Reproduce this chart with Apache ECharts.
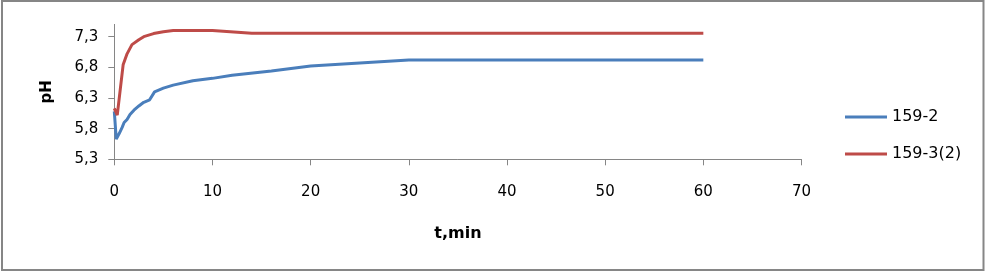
<!DOCTYPE html>
<html>
<head>
<meta charset="utf-8">
<script src="https://cdn.jsdelivr.net/npm/echarts@6/dist/echarts.min.js"></script>
<style>html,body{margin:0;padding:0;background:#fff}#c{width:985px;height:271px}</style>
</head>
<body>
<div id="c"></div>
<script>
// Data
var seriesNames = ['159-2', '159-3(2)'];
var blueData = [[0,6.08],[0.2,5.63],[0.5,5.72],[0.8,5.82],[1,5.9],[1.3,5.95],[1.6,6.03],[2,6.1],[2.5,6.17],[3,6.23],[3.6,6.27],[4.1,6.4],[5,6.46],[6,6.51],[8,6.58],[10,6.62],[12,6.67],[16,6.74],[20,6.82],[30,6.92],[40,6.92],[50,6.92],[60,6.92]];
var redData = [[0,6.13],[0.15,6.13],[0.3,6.02],[0.9,6.84],[1.3,7.02],[1.8,7.17],[2.5,7.25],[3,7.3],[4,7.35],[5,7.38],[6,7.4],[8,7.4],[10,7.4],[14,7.355],[20,7.355],[30,7.355],[40,7.355],[50,7.355],[60,7.355]];
var xTicks = [0,10,20,30,40,50,60,70];
var yTicks = [5.3,5.8,6.3,6.8,7.3];

var chart = echarts.init(document.getElementById('c'), null, {renderer:'canvas'});
var axisGray = '#868686';
var font = 'DejaVu Sans';
chart.setOption({
  animation: false,
  backgroundColor: '#fff',
  graphic: [{type:'rect', shape:{x:2, y:1, width:981.5, height:269}, style:{fill:'none', stroke:axisGray, lineWidth:2}, silent:true, z:100}],
  grid: {left:114.3, right:183.5, top:24.4, bottom:111.7, containLabel:false},
  legend: {
    orient:'vertical', left:845, top:109, padding:0, itemWidth:42, itemHeight:3, itemGap:21,
    icon:'rect',
    data: seriesNames,
    textStyle:{fontFamily:font, fontSize:16, color:'#000'}
  },
  xAxis: {
    type:'value', min:0, max:70, interval:10,
    name:'t,min', nameLocation:'middle', nameGap:67,
    nameTextStyle:{fontFamily:font, fontSize:16, fontWeight:'bold', color:'#000'},
    axisLine:{show:true, lineStyle:{color:axisGray, width:1}},
    axisTick:{show:true, length:6, inside:false, lineStyle:{color:axisGray}},
    axisLabel:{margin:25, fontFamily:font, fontSize:15, color:'#000', customValues: xTicks},
    splitLine:{show:false}
  },
  yAxis: {
    type:'value', min:5.3, max:7.5, interval:0.5,
    name:'pH', nameLocation:'middle', nameGap:60, nameRotate:90,
    nameTextStyle:{fontFamily:font, fontSize:15, fontWeight:'bold', color:'#000'},
    axisLine:{show:true, lineStyle:{color:axisGray, width:1}},
    axisTick:{show:true, length:6, inside:false, lineStyle:{color:axisGray}, customValues: yTicks},
    axisLabel:{margin:16, fontFamily:font, fontSize:15, color:'#000', customValues: yTicks,
      formatter:function(v){return (Math.round(v*10)/10).toFixed(1).replace('.', ',');}},
    splitLine:{show:false}
  },
  series: [
    {name:seriesNames[0], type:'line', data:blueData, symbol:'none', lineStyle:{color:'#4A7EBB', width:3}, itemStyle:{color:'#4A7EBB'}},
    {name:seriesNames[1], type:'line', data:redData, symbol:'none', lineStyle:{color:'#BE4B48', width:3}, itemStyle:{color:'#BE4B48'}}
  ]
});
</script>
</body>
</html>
